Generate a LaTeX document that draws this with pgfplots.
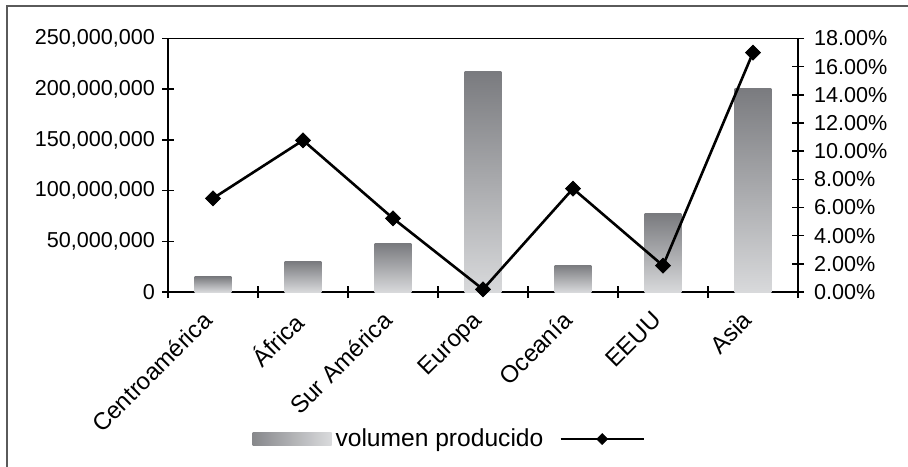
\documentclass[border=0pt]{standalone}
\usepackage{fontspec}
\setmainfont{Liberation Sans}
\usepackage{pgfplots}
\pgfplotsset{compat=1.18}
\definecolor{bartop}{RGB}{122,123,127}
\definecolor{barbot}{RGB}{216,217,219}
\definecolor{framegray}{RGB}{90,90,90}
\begin{document}
\begin{tikzpicture}[x=1pt,y=1pt]
\path[use as bounding box] (0,0) rectangle (454,233);
% outer chart frame
\draw[line width=0.9pt, framegray] (3.5,-5) -- (3.5,230) -- (460,230);
\pgfplotsset{
  common/.style={
    at={(84pt,87pt)}, anchor=south west,
    scale only axis, width=315pt, height=126.75pt,
    xmin=-0.5, xmax=6.5,
    axis line style={line width=0.8pt, black},
    every tick/.style={line width=0.8pt, black},
    tick align=center,
    major tick length=6pt,
    minor tick length=6pt,
    ticklabel style={font=\fontsize{10.8}{12}\selectfont},
    /pgf/number format/assume math mode=true,
  },
  % each bar is its own plot so that every bar gets the full gradient
  volbar/.style={ybar, bar width=0.41, bar shift=0pt, draw=none,
    top color=bartop, bottom color=barbot, forget plot},
}
% volume (left axis, bars)
\begin{axis}[common,
  ymin=0, ymax=250000000,
  ytick={0,50000000,100000000,150000000,200000000,250000000},
  scaled y ticks=false,
  yticklabel={\pgfmathprintnumber[fixed,precision=0,1000 sep={,}]{\tick}},
  ytick pos=left,
  xtick pos=bottom,
  xtick={0,1,2,3,4,5,6},
  xticklabels={Centroamérica, África\hspace{5.75pt}, Sur América\hspace{2pt},
    Europa\hspace{4.5pt}, Oceanía\hspace{3.5pt}, EEUU\hspace{2pt}, Asia\hspace{5.5pt}},
  major x tick style={draw=none},
  minor xtick={-0.5,0.5,1.5,2.5,3.5,4.5,5.5,6.5},
  xticklabel style={font=\fontsize{12}{14}\selectfont,
    xshift=-6pt, yshift=-1pt, rotate=45, anchor=north east},
]
\addplot[volbar] coordinates {(0,15000000)};
\addplot[volbar] coordinates {(1,30000000)};
\addplot[volbar] coordinates {(2,47500000)};
\addplot[volbar] coordinates {(3,217000000)};
\addplot[volbar] coordinates {(4,26500000)};
\addplot[volbar] coordinates {(5,77000000)};
\addplot[volbar] coordinates {(6,201000000)};
\end{axis}
% share (right axis, line)
\begin{axis}[common,
  ymin=0, ymax=18,
  ytick={0,2,4,6,8,10,12,14,16,18},
  yticklabel={\pgfmathprintnumber[fixed,fixed zerofill,precision=2]{\tick}\%},
  yticklabel style={xshift=1.5pt},
  axis y line*=right,
  axis x line=none,
  legend style={at={(0.452,-0.58)}, anchor=center, draw=none, fill=none,
    legend columns=-1, font=\fontsize{12.3}{14}\selectfont,
    /tikz/every even column/.append style={column sep=6pt}},
]
\addlegendimage{legend image code/.code={%
  \path[draw=none, left color=bartop!90, right color=barbot!95] (0pt,-3.25pt) rectangle (39.5pt,3.25pt);}}
\addlegendentry{volumen producido}
\addplot[black, line width=1.3pt, mark=square*, mark size=2.65pt,
  mark options={rotate=45, line width=0.4pt},
  legend image code/.code={%
    \draw[mark repeat=2, mark phase=2, mark size=1.9pt]
      plot coordinates {(0pt,0pt) (20.75pt,0pt) (41.5pt,0pt)};}]
  coordinates {(0,6.65) (1,10.77) (2,5.23) (3,0.19) (4,7.34) (5,1.87) (6,17.0)};
\addlegendentry{}
\end{axis}
\end{tikzpicture}
\end{document}
